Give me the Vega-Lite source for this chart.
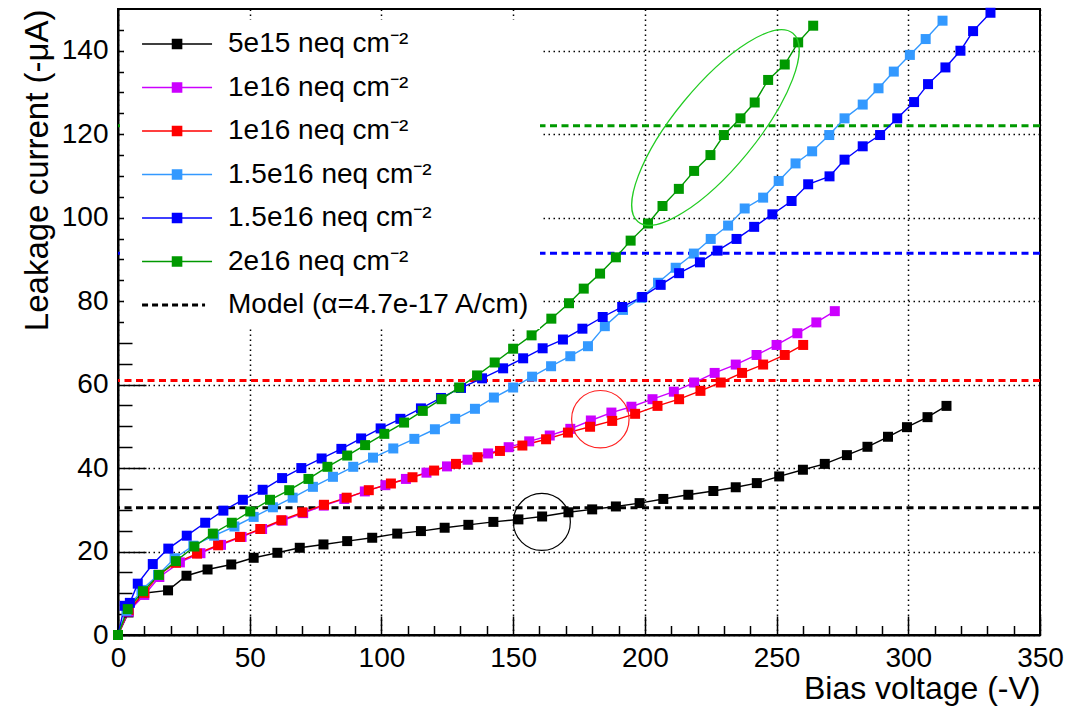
{
  "$schema": "https://vega.github.io/schema/vega-lite/v6.json",
  "width": 922,
  "height": 626,
  "autosize": {"type": "none"},
  "padding": {"left": 118, "top": 9, "right": 31, "bottom": 73},
  "background": "white",
  "config": {"view": {"stroke": "#000", "strokeWidth": 2}},
  "datasets": {
    "series": [
      {"s":"s1","V":0,"I":0},{"s":"s1","V":4,"I":5.4},{"s":"s1","V":9.6,"I":10.0},{"s":"s1","V":19,"I":10.7},{"s":"s1","V":26,"I":14.2},{"s":"s1","V":34,"I":15.7},{"s":"s1","V":43,"I":16.9},{"s":"s1","V":51.5,"I":18.5},{"s":"s1","V":60.5,"I":19.7},{"s":"s1","V":69,"I":20.9},{"s":"s1","V":78,"I":21.7},{"s":"s1","V":87,"I":22.5},{"s":"s1","V":96.5,"I":23.3},{"s":"s1","V":106,"I":24.3},{"s":"s1","V":115,"I":24.9},{"s":"s1","V":124,"I":25.7},{"s":"s1","V":133,"I":26.4},{"s":"s1","V":142.5,"I":27.1},{"s":"s1","V":152,"I":27.7},{"s":"s1","V":161,"I":28.4},{"s":"s1","V":171,"I":29.4},{"s":"s1","V":180,"I":30.1},{"s":"s1","V":189,"I":30.8},{"s":"s1","V":198,"I":31.6},{"s":"s1","V":207,"I":32.6},{"s":"s1","V":216.5,"I":33.6},{"s":"s1","V":226,"I":34.5},{"s":"s1","V":234.5,"I":35.4},{"s":"s1","V":242.5,"I":36.4},{"s":"s1","V":251,"I":38.0},{"s":"s1","V":260,"I":39.6},{"s":"s1","V":268.3,"I":41.0},{"s":"s1","V":276.7,"I":43.1},{"s":"s1","V":284.5,"I":45.1},{"s":"s1","V":292.3,"I":47.5},{"s":"s1","V":299.5,"I":49.8},{"s":"s1","V":307.3,"I":52.2},{"s":"s1","V":314.5,"I":54.9},
      {"s":"s2","V":0,"I":0},{"s":"s2","V":4,"I":5.6},{"s":"s2","V":10,"I":9.6},{"s":"s2","V":15.7,"I":13.9},{"s":"s2","V":23.5,"I":17.4},{"s":"s2","V":31.3,"I":19.6},{"s":"s2","V":39.1,"I":21.6},{"s":"s2","V":46.9,"I":23.5},{"s":"s2","V":54.7,"I":25.4},{"s":"s2","V":62.5,"I":27.4},{"s":"s2","V":70.3,"I":29.2},{"s":"s2","V":78.1,"I":31.0},{"s":"s2","V":85.9,"I":32.6},{"s":"s2","V":93.7,"I":34.4},{"s":"s2","V":101.5,"I":35.9},{"s":"s2","V":109.3,"I":37.4},{"s":"s2","V":117.1,"I":38.9},{"s":"s2","V":124.9,"I":40.4},{"s":"s2","V":132.7,"I":42.0},{"s":"s2","V":140.5,"I":43.5},{"s":"s2","V":148.3,"I":45.0},{"s":"s2","V":156.1,"I":46.4},{"s":"s2","V":163.9,"I":47.8},{"s":"s2","V":171.7,"I":49.4},{"s":"s2","V":179.5,"I":51.4},{"s":"s2","V":187.3,"I":53.3},{"s":"s2","V":194.9,"I":54.7},{"s":"s2","V":202.9,"I":56.5},{"s":"s2","V":211,"I":58.3},{"s":"s2","V":218.7,"I":60.5},{"s":"s2","V":226.5,"I":62.8},{"s":"s2","V":234.5,"I":64.8},{"s":"s2","V":242.4,"I":67.1},{"s":"s2","V":250,"I":69.5},{"s":"s2","V":257.9,"I":72.3},{"s":"s2","V":265.1,"I":74.9},{"s":"s2","V":272.1,"I":77.6},
      {"s":"s3","V":0,"I":0},{"s":"s3","V":4,"I":6.0},{"s":"s3","V":10,"I":10.1},{"s":"s3","V":15.5,"I":14.4},{"s":"s3","V":22,"I":17.3},{"s":"s3","V":30,"I":19.5},{"s":"s3","V":38,"I":21.5},{"s":"s3","V":46.3,"I":23.5},{"s":"s3","V":54,"I":25.4},{"s":"s3","V":62,"I":27.5},{"s":"s3","V":70,"I":29.4},{"s":"s3","V":78.2,"I":31.2},{"s":"s3","V":86.8,"I":32.9},{"s":"s3","V":95.2,"I":34.7},{"s":"s3","V":103.6,"I":36.3},{"s":"s3","V":111.8,"I":37.8},{"s":"s3","V":120,"I":39.4},{"s":"s3","V":128.3,"I":41.0},{"s":"s3","V":136.5,"I":42.6},{"s":"s3","V":145,"I":44.1},{"s":"s3","V":153.5,"I":45.4},{"s":"s3","V":162.5,"I":46.9},{"s":"s3","V":170.8,"I":48.5},{"s":"s3","V":179.2,"I":49.9},{"s":"s3","V":187.6,"I":51.3},{"s":"s3","V":196.3,"I":53.0},{"s":"s3","V":204.8,"I":54.9},{"s":"s3","V":213,"I":56.5},{"s":"s3","V":221.1,"I":58.5},{"s":"s3","V":228.8,"I":60.5},{"s":"s3","V":236.9,"I":62.8},{"s":"s3","V":244.9,"I":64.8},{"s":"s3","V":253.1,"I":67.1},{"s":"s3","V":260.1,"I":69.5},
      {"s":"s4","V":0,"I":0},{"s":"s4","V":3.2,"I":5.8},{"s":"s4","V":8.9,"I":10.8},{"s":"s4","V":15.2,"I":14.4},{"s":"s4","V":21.5,"I":18.4},{"s":"s4","V":28.6,"I":21.4},{"s":"s4","V":36.5,"I":23.8},{"s":"s4","V":44.2,"I":26.0},{"s":"s4","V":51.5,"I":28.3},{"s":"s4","V":58.8,"I":30.6},{"s":"s4","V":66.3,"I":32.9},{"s":"s4","V":74,"I":35.5},{"s":"s4","V":81.6,"I":37.9},{"s":"s4","V":89.3,"I":40.3},{"s":"s4","V":96.8,"I":42.5},{"s":"s4","V":104.5,"I":44.7},{"s":"s4","V":112.5,"I":47.0},{"s":"s4","V":120.3,"I":49.3},{"s":"s4","V":128,"I":51.8},{"s":"s4","V":135.5,"I":54.2},{"s":"s4","V":142.7,"I":56.9},{"s":"s4","V":150,"I":59.3},{"s":"s4","V":157.2,"I":61.9},{"s":"s4","V":164.4,"I":64.4},{"s":"s4","V":171.7,"I":66.8},{"s":"s4","V":178.4,"I":69.2},{"s":"s4","V":184.8,"I":74.0},{"s":"s4","V":191.7,"I":77.9},{"s":"s4","V":198.7,"I":80.8},{"s":"s4","V":205,"I":84.4},{"s":"s4","V":211.7,"I":88.0},{"s":"s4","V":218.6,"I":91.4},{"s":"s4","V":225,"I":94.9},{"s":"s4","V":231.6,"I":98.1},{"s":"s4","V":237.9,"I":102.2},{"s":"s4","V":244.9,"I":104.8},{"s":"s4","V":250.8,"I":108.8},{"s":"s4","V":257.2,"I":113.0},{"s":"s4","V":263.5,"I":115.9},{"s":"s4","V":270,"I":119.8},{"s":"s4","V":275.8,"I":123.8},{"s":"s4","V":282.7,"I":127.1},{"s":"s4","V":288.7,"I":131.0},{"s":"s4","V":294.5,"I":135.0},{"s":"s4","V":300.6,"I":139.0},{"s":"s4","V":306.6,"I":142.8},{"s":"s4","V":313,"I":147.2},
      {"s":"s5","V":0,"I":0},{"s":"s5","V":2.5,"I":7.0},{"s":"s5","V":4.5,"I":7.7},{"s":"s5","V":7.5,"I":12.3},{"s":"s5","V":13.2,"I":17.0},{"s":"s5","V":19.1,"I":20.7},{"s":"s5","V":26.1,"I":23.8},{"s":"s5","V":33.1,"I":26.9},{"s":"s5","V":40,"I":29.8},{"s":"s5","V":47.4,"I":32.4},{"s":"s5","V":54.9,"I":34.8},{"s":"s5","V":62.3,"I":37.6},{"s":"s5","V":69.6,"I":40.0},{"s":"s5","V":77.3,"I":42.3},{"s":"s5","V":84.8,"I":44.6},{"s":"s5","V":92.3,"I":47.1},{"s":"s5","V":99.7,"I":49.5},{"s":"s5","V":107.2,"I":51.8},{"s":"s5","V":115,"I":54.3},{"s":"s5","V":122.6,"I":56.8},{"s":"s5","V":130.2,"I":59.2},{"s":"s5","V":138.2,"I":61.5},{"s":"s5","V":146.2,"I":63.9},{"s":"s5","V":153.8,"I":66.3},{"s":"s5","V":161.2,"I":68.7},{"s":"s5","V":168.9,"I":70.8},{"s":"s5","V":176.3,"I":73.4},{"s":"s5","V":184,"I":76.2},{"s":"s5","V":191.4,"I":78.6},{"s":"s5","V":199,"I":81.0},{"s":"s5","V":206,"I":83.9},{"s":"s5","V":213,"I":86.7},{"s":"s5","V":220.9,"I":89.3},{"s":"s5","V":227.6,"I":92.1},{"s":"s5","V":234.8,"I":94.9},{"s":"s5","V":241.5,"I":97.8},{"s":"s5","V":248.4,"I":100.8},{"s":"s5","V":255.7,"I":104.0},{"s":"s5","V":262,"I":108.0},{"s":"s5","V":270.1,"I":109.9},{"s":"s5","V":275.8,"I":113.9},{"s":"s5","V":282.7,"I":117.1},{"s":"s5","V":289.3,"I":119.8},{"s":"s5","V":295.8,"I":123.8},{"s":"s5","V":302.2,"I":127.7},{"s":"s5","V":307.5,"I":132.0},{"s":"s5","V":314.1,"I":136.0},{"s":"s5","V":319.8,"I":140.0},{"s":"s5","V":324.6,"I":144.7},{"s":"s5","V":331.2,"I":149.1},
      {"s":"s6","V":0,"I":0},{"s":"s6","V":3.7,"I":6.2},{"s":"s6","V":9.5,"I":10.5},{"s":"s6","V":15.5,"I":14.4},{"s":"s6","V":22,"I":17.7},{"s":"s6","V":29,"I":21.2},{"s":"s6","V":36,"I":24.3},{"s":"s6","V":43.2,"I":26.9},{"s":"s6","V":50.2,"I":29.6},{"s":"s6","V":57.7,"I":32.4},{"s":"s6","V":65,"I":34.7},{"s":"s6","V":72.3,"I":37.4},{"s":"s6","V":79.5,"I":40.3},{"s":"s6","V":87,"I":43.0},{"s":"s6","V":93.8,"I":45.5},{"s":"s6","V":101.1,"I":48.2},{"s":"s6","V":108.6,"I":50.9},{"s":"s6","V":115.7,"I":53.7},{"s":"s6","V":122.8,"I":56.5},{"s":"s6","V":129.5,"I":59.3},{"s":"s6","V":136.3,"I":62.2},{"s":"s6","V":143,"I":65.3},{"s":"s6","V":150,"I":68.6},{"s":"s6","V":157,"I":71.8},{"s":"s6","V":164.5,"I":75.8},{"s":"s6","V":171.2,"I":79.5},{"s":"s6","V":176.8,"I":83.0},{"s":"s6","V":183,"I":86.6},{"s":"s6","V":189,"I":90.5},{"s":"s6","V":194.6,"I":94.5},{"s":"s6","V":201.2,"I":98.6},{"s":"s6","V":206.7,"I":102.8},{"s":"s6","V":212.9,"I":106.9},{"s":"s6","V":218.7,"I":111.2},{"s":"s6","V":224.9,"I":115.0},{"s":"s6","V":230,"I":119.8},{"s":"s6","V":236.3,"I":123.8},{"s":"s6","V":241.7,"I":127.6},{"s":"s6","V":246.8,"I":133.0},{"s":"s6","V":253.1,"I":136.7},{"s":"s6","V":258.2,"I":142.0},{"s":"s6","V":263.9,"I":146.0}
    ],
    "model": [
      {"s":"s1","I":30.5},{"s":"s3","I":61.0},{"s":"s5","I":91.5},{"s":"s6","I":122.0}
    ],
    "annot": [
      {"name":"black","V":160.9,"I":27.1},
      {"name":"red","V":183.1,"I":51.7},
      {"name":"green","V":226.8,"I":121.6}
    ]
  },
  "resolve": {"axis": {"x": "independent", "y": "independent"}},
  "layer": [
    {
      "data": {"name": "model"},
      "mark": {"type": "rule", "strokeWidth": 3, "strokeDash": [7, 4.5]},
      "encoding": {
        "y": {"field": "I", "type": "quantitative", "scale": {"domain": [0, 150], "nice": false}, "axis": null},
        "color": {"field": "s", "type": "nominal"}
      }
    },
    {
      "data": {"name": "series"},
      "mark": {"type": "line", "strokeWidth": 1.4},
      "encoding": {
        "x": {"field": "V", "type": "quantitative", "scale": {"domain": [0, 350], "nice": false},
          "axis": {"values": [0, 50, 100, 150, 200, 250, 300, 350], "ticks": false, "grid": true, "gridDash": [1.5, 3.5], "gridColor": "#000", "gridWidth": 1.5,
            "domainColor": "#000", "domainWidth": 2, "labelFont": "Liberation Sans", "labelFontSize": 28, "labelColor": "#000", "labelPadding": 9, "labelFlush": false, "labelOverlap": false,
            "title": "Bias voltage (-V)", "titleFont": "Liberation Sans", "titleFontSize": 32, "titleFontWeight": "normal", "titleColor": "#000", "titleAnchor": "end", "titlePadding": 1}},
        "y": {"field": "I", "type": "quantitative", "scale": {"domain": [0, 150], "nice": false},
          "axis": {"values": [0, 20, 40, 60, 80, 100, 120, 140], "ticks": false, "grid": true, "gridDash": [1.5, 3.5], "gridColor": "#000", "gridWidth": 1.5,
            "domainColor": "#000", "domainWidth": 2, "labelFont": "Liberation Sans", "labelFontSize": 28, "labelColor": "#000", "labelPadding": 10, "labelFlush": false, "labelOverlap": false,
            "title": "Leakage current (-μA)", "titleFont": "Liberation Sans", "titleFontSize": 33, "titleFontWeight": "normal", "titleColor": "#000", "titleAnchor": "end", "titlePadding": 7}},
        "color": {"field": "s", "type": "nominal",
          "scale": {"domain": ["s1", "s2", "s3", "s4", "s5", "s6", "model"], "range": ["#000000", "#cc00ff", "#ff0000", "#3399ff", "#0000ff", "#009900", "#000000"]},
          "legend": {
            "orient": "none", "legendX": 6, "legendY": 11, "fillColor": "white", "padding": 10, "title": null,
            "labelFont": "Liberation Sans", "labelFontSize": 28, "labelColor": "#000", "labelLimit": 700, "labelOffset": 66, "rowPadding": 15.5,
            "symbolSize": 4900, "symbolStrokeWidth": 1.5,
            "labelExpr": "{'s1':'5e15 neq cm⁻²','s2':'1e16 neq cm⁻²','s3':'1e16 neq cm⁻²','s4':'1.5e16 neq cm⁻²','s5':'1.5e16 neq cm⁻²','s6':'2e16 neq cm⁻²','model':'Model (α=4.7e-17 A/cm)'}[datum.value]",
            "encode": {"symbols": {"update": {
              "shape": {"signal": "datum.value === 'model' ? 'M-0.17,0H1.63' : 'M-0.17,0H1.83M0.70,-0.13H0.96V0.13H0.70Z'"},
              "fill": {"signal": "datum.value === 'model' ? 'transparent' : scale('color', datum.value)"},
              "stroke": {"signal": "scale('color', datum.value)"},
              "strokeDash": {"signal": "datum.value === 'model' ? [6, 4] : [1, 0]"},
              "strokeWidth": {"signal": "datum.value === 'model' ? 3 : 1.5"},
              "size": {"value": 4900},
              "opacity": {"value": 1}
            }}}
          }
        }
      }
    },
    {
      "data": {"name": "series"},
      "mark": {"type": "point", "shape": "square", "filled": true, "size": 100, "opacity": 1},
      "encoding": {
        "x": {"field": "V", "type": "quantitative", "axis": {"orient": "bottom", "offset": -19, "values": [0, 50, 100, 150, 200, 250, 300, 350], "tickSize": 19, "tickWidth": 1.5, "tickColor": "#000", "labels": false, "domain": false, "grid": false, "title": null}},
        "y": {"field": "I", "type": "quantitative", "axis": {"orient": "left", "offset": -28, "values": [0, 20, 40, 60, 80, 100, 120, 140], "tickSize": 28, "tickWidth": 1.5, "tickColor": "#000", "labels": false, "domain": false, "grid": false, "title": null}},
        "color": {"field": "s", "type": "nominal"}
      }
    },
    {
      "data": {"name": "annot"},
      "transform": [{"filter": "datum.name === 'black'"}],
      "mark": {"type": "point", "shape": "circle", "size": 3249, "filled": false, "stroke": "#000", "strokeWidth": 1.2, "opacity": 1},
      "encoding": {
        "x": {"field": "V", "type": "quantitative", "axis": {"orient": "bottom", "offset": -9.5, "values": [10, 20, 30, 40, 60, 70, 80, 90, 110, 120, 130, 140, 160, 170, 180, 190, 210, 220, 230, 240, 260, 270, 280, 290, 310, 320, 330, 340], "tickSize": 9.5, "tickWidth": 1.5, "tickColor": "#000", "labels": false, "domain": false, "grid": false, "title": null}},
        "y": {"field": "I", "type": "quantitative", "axis": {"orient": "left", "offset": -14, "values": [5, 10, 15, 25, 30, 35, 45, 50, 55, 65, 70, 75, 85, 90, 95, 105, 110, 115, 125, 130, 135, 145], "tickSize": 14, "tickWidth": 1.5, "tickColor": "#000", "labels": false, "domain": false, "grid": false, "title": null}}
      }
    },
    {
      "data": {"name": "annot"},
      "transform": [{"filter": "datum.name === 'red'"}],
      "mark": {"type": "point", "shape": "circle", "size": 3300, "filled": false, "stroke": "#ff2020", "strokeWidth": 1.2, "opacity": 1},
      "encoding": {
        "x": {"field": "V", "type": "quantitative", "axis": null},
        "y": {"field": "I", "type": "quantitative", "axis": null}
      }
    },
    {
      "data": {"name": "annot"},
      "transform": [{"filter": "datum.name === 'green'"}],
      "mark": {"type": "point", "shape": "M1,0C1,0.1856,0.5523,0.336,0,0.336C-0.5523,0.336,-1,0.1856,-1,0C-1,-0.1856,-0.5523,-0.336,0,-0.336C0.5523,-0.336,1,-0.1856,1,0Z", "size": 59536, "angle": 309.4, "filled": false, "stroke": "#22cc22", "strokeWidth": 1.2, "opacity": 1},
      "encoding": {
        "x": {"field": "V", "type": "quantitative", "axis": null},
        "y": {"field": "I", "type": "quantitative", "axis": null}
      }
    }
  ]
}
